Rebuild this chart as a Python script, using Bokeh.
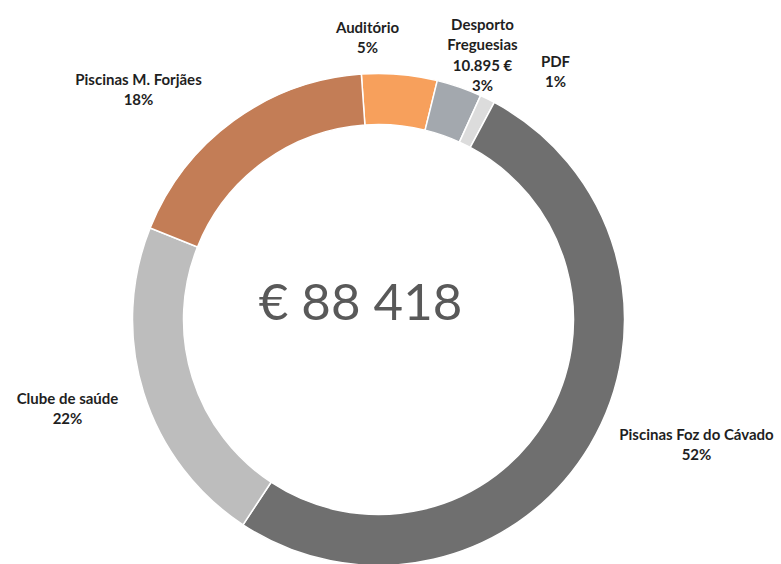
import math
from bokeh.plotting import figure
from bokeh.models import ColumnDataSource
from bokeh.core.properties import value
from bokeh.embed import file_html
from bokeh.resources import INLINE

# ---- data ----
categories = ["Auditório", "Desporto Freguesias", "PDF",
              "Piscinas Foz do Cávado", "Clube de saúde", "Piscinas M. Forjães"]
percentages = [5, 3, 1, 52, 22, 18]
extra_values = ["", "10.895 €", "", "", "", ""]
total_value = 88418
colors = ["#F7A05C", "#A3A8AE", "#DCDCDC", "#6F6F6F", "#BDBDBD", "#C37D56"]

# ---- layout ----
W, H = 781, 564
def sx(X):  # screen x -> data x
    return X
def sy(Y):  # screen y -> data y
    return H - Y

cx, cy = sx(378), sy(319)
r_in, r_out = 195, 246
start_deg = -4.0  # clockwise from 12 o'clock

p = figure(width=W, height=H, x_range=(0, W), y_range=(0, H),
           output_backend="svg", toolbar_location=None,
           x_axis_location=None, y_axis_location=None, min_border=0)
p.outline_line_color = None
p.grid.visible = False
p.background_fill_color = "white"
p.border_fill_color = "white"

tot = sum(percentages)
starts, ends = [], []
acc = start_deg
for v in percentages:
    a1 = acc
    a2 = acc + v / tot * 360.0
    acc = a2
    starts.append(math.radians(90 - a2))
    ends.append(math.radians(90 - a1))

src = ColumnDataSource(dict(x=[cx] * len(percentages), y=[cy] * len(percentages),
                            start=starts, end=ends, color=colors))
p.annular_wedge(x="x", y="y", inner_radius=r_in, outer_radius=r_out,
                start_angle="start", end_angle="end", direction="anticlock",
                fill_color="color", line_color="white", line_width=1.5, source=src)

# label anchor positions (screen, center of first line)
label_pos = [(367, 26), (482, 23), (555, 60), (696, 433), (67, 397), (138, 78)]
line_gap = 20.5

tx, ty, tt = [], [], []
for name, pct, extra, (X, Y) in zip(categories, percentages, extra_values, label_pos):
    if name == "Desporto Freguesias":
        lines = ["Desporto", "Freguesias"]
    else:
        lines = [name]
    if extra:
        lines.append(extra)
    lines.append(f"{pct}%")
    for i, ln in enumerate(lines):
        tx.append(sx(X))
        ty.append(sy(Y + i * line_gap))
        tt.append(ln)

p.text(x=tx, y=ty, text=tt, text_font=value("Lato"), text_font_style="bold",
       text_font_size="15px", text_color="#1F1F1F",
       text_align="center", text_baseline="middle")

center_label = "€ " + f"{total_value:,}".replace(",", " ")
p.text(x=[sx(360)], y=[sy(300)], text=[center_label], text_font=value("Lato"),
       text_font_size="51px", text_color="#595959",
       text_align="center", text_baseline="middle")

open("out.html", "w").write(file_html(p, INLINE))
